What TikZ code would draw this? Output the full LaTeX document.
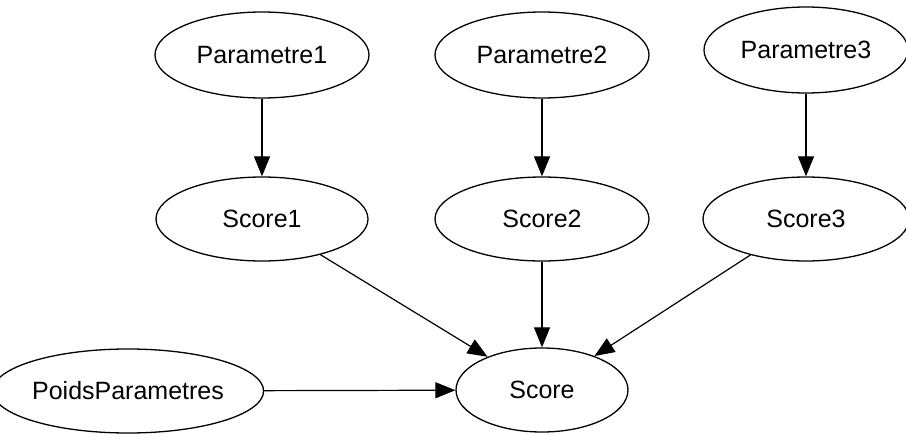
\documentclass[tikz,border=0pt]{standalone}
\usepackage{fontspec}
\setmainfont{Liberation Sans}
\usetikzlibrary{shapes.geometric,arrows.meta}
\begin{document}
\begin{tikzpicture}[x=1pt,y=-1pt,
  nd/.style={draw,ellipse,line width=1.3pt,inner sep=0pt,
    font=\fontsize{25}{30}\selectfont},
  edge/.style={line width=1.2pt,-{Triangle[length=20pt,width=16pt]}}]
\useasboundingbox (0,0) rectangle (906,434);
\node[nd,minimum width=214pt,minimum height=86pt] (p1) at (262,55) {Parametre1};
\node[nd,minimum width=214pt,minimum height=86pt] (p2) at (542,55) {Parametre2};
\node[nd,minimum width=204pt,minimum height=86pt] (p3) at (806,50) {Parametre3};
\node[nd,minimum width=212pt,minimum height=84pt] (s1) at (262,219) {Score1};
\node[nd,minimum width=214pt,minimum height=84pt] (s2) at (542,219) {Score2};
\node[nd,minimum width=206pt,minimum height=84pt] (s3) at (806,219) {Score3};
\node[nd,minimum width=172pt,minimum height=84pt] (s) at (542,390) {Score};
\node[nd,minimum width=232pt,minimum height=84pt] (pp) at (128,391) {PoidsParametres};
\draw[edge] (p1) -- (s1);
\draw[edge] (p2) -- (s2);
\draw[edge] (p3) -- (s3);
\draw[edge] (s1) -- (s);
\draw[edge] (s2) -- (s);
\draw[edge] (s3) -- (s);
\draw[edge] (pp) -- (s);
\end{tikzpicture}
\end{document}
